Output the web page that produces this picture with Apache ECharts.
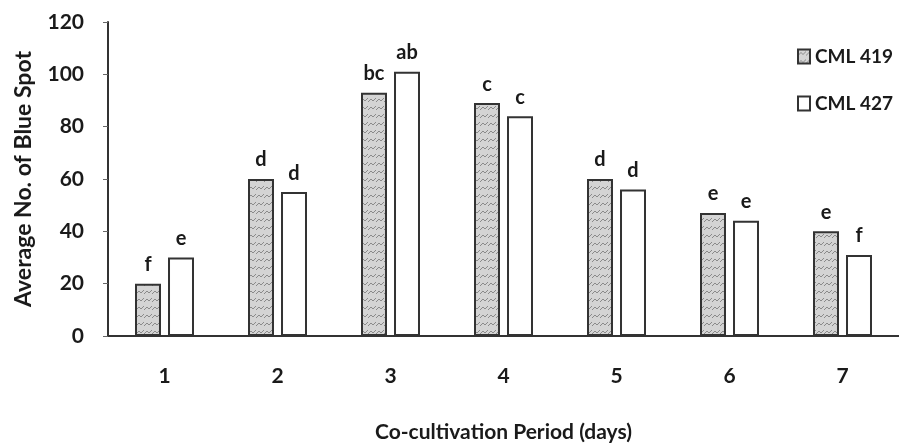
<!DOCTYPE html>
<html>
<head>
<meta charset="utf-8">
<script src="https://cdn.jsdelivr.net/npm/echarts@6/dist/echarts.min.js"></script>
<style>
html, body { margin: 0; padding: 0; background: #fff; }
#chart { width: 899px; height: 448px; }
</style>
</head>
<body>
<div id="chart"></div>
<script>
var days = ['1', '2', '3', '4', '5', '6', '7'];
var cml419 = [20, 60, 93, 89, 60, 47, 40];
var cml427 = [30, 55, 101, 84, 56, 44, 31];
var letters419 = ['f', 'd', 'bc', 'c', 'd', 'e', 'e'];
var letters427 = ['e', 'd', 'ab', 'c', 'd', 'e', 'f'];

// grey speckled fill like the scanned hatch
function hatch()
{
    var c = document.createElement('canvas');
    c.width = 8; c.height = 8;
    var g = c.getContext('2d');
    g.fillStyle = '#d4d4d4';
    g.fillRect(0, 0, 8, 8);
    g.strokeStyle = '#8a8a8a';
    g.lineWidth = 1;
    g.beginPath();
    g.moveTo(0, 6); g.lineTo(3, 3); g.lineTo(5, 5); g.lineTo(8, 2);
    g.stroke();
    return c;
}

var font = 'Lato';
var chart = echarts.init(document.getElementById('chart'));

var option = {
    backgroundColor: '#fff',
    animation: false,
    textStyle: { fontFamily: font },
    legend: {
        orient: 'vertical',
        left: 792,
        top: 42,
        itemWidth: 12,
        itemHeight: 14,
        itemGap: 28,
        icon: 'rect',
        textStyle: { fontFamily: font, fontWeight: 'bold', fontSize: 19, color: '#1a1a1a' },
        data: ['CML 419', 'CML 427']
    },
    grid: { left: 108, right: -4, top: 22, bottom: 108 },
    xAxis: {
        type: 'category',
        data: days,
        name: 'Co-cultivation Period (days)',
        nameLocation: 'middle',
        nameGap: 86,
        nameTextStyle: { fontFamily: font, fontWeight: 'bold', fontSize: 21, color: '#1a1a1a' },
        axisLine: { lineStyle: { color: '#333', width: 2 } },
        axisTick: { length: 5, lineStyle: { color: '#666' } },
        axisLabel: { margin: 30, fontFamily: font, fontWeight: 'bold', fontSize: 21, color: '#1a1a1a' }
    },
    yAxis: {
        type: 'value',
        min: 0,
        max: 120,
        interval: 20,
        name: 'Average No. of Blue Spot',
        nameLocation: 'middle',
        nameGap: 73,
        nameTextStyle: { fontFamily: font, fontWeight: 'bold', fontSize: 23, color: '#1a1a1a' },
        axisLine: { show: true, lineStyle: { color: '#333', width: 2 } },
        axisTick: { show: true, length: 5, lineStyle: { color: '#666' } },
        splitLine: { show: false },
        axisLabel: { margin: 24, fontFamily: font, fontWeight: 'bold', fontSize: 21, color: '#1a1a1a' }
    },
    series: [
        {
            name: 'CML 419',
            type: 'bar',
            data: cml419,
            barWidth: '23%',
            barGap: '27%',
            itemStyle: {
                color: { image: hatch(), repeat: 'repeat' },
                borderColor: '#333',
                borderWidth: 2
            },
            label: {
                show: true,
                position: 'top',
                distance: 9,
                fontFamily: font,
                fontWeight: 'bold',
                fontSize: 20,
                color: '#1a1a1a',
                formatter: function (p) { return letters419[p.dataIndex]; }
            }
        },
        {
            name: 'CML 427',
            type: 'bar',
            data: cml427,
            barWidth: '23%',
            itemStyle: {
                color: '#fff',
                borderColor: '#333',
                borderWidth: 2
            },
            label: {
                show: true,
                position: 'top',
                distance: 9,
                fontFamily: font,
                fontWeight: 'bold',
                fontSize: 20,
                color: '#1a1a1a',
                formatter: function (p) { return letters427[p.dataIndex]; }
            }
        }
    ]
};

chart.setOption(option);
</script>
</body>
</html>
